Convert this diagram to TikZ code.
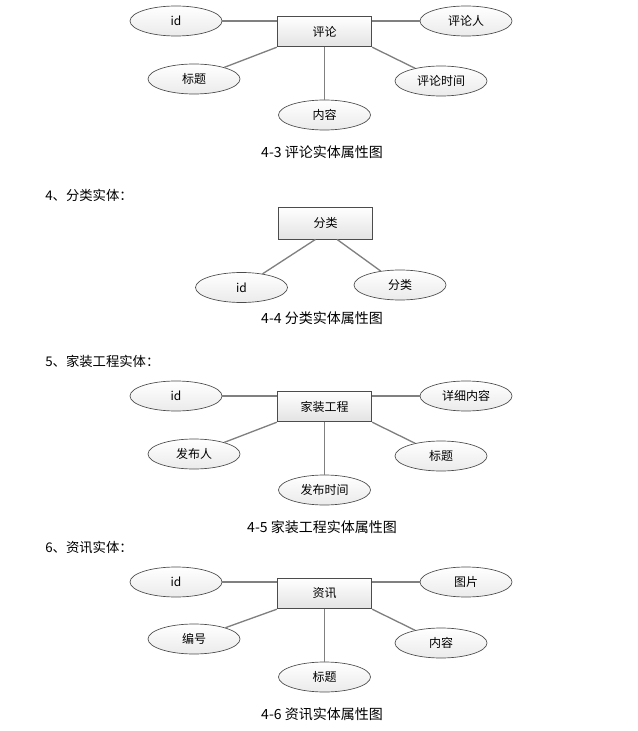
\documentclass[tikz,border=0pt]{standalone}
\usepackage{fontspec}
\newfontfamily\cjk{Noto Sans CJK SC}
\usetikzlibrary{shapes.geometric,positioning,calc}
\begin{document}
\begin{tikzpicture}[
    x=0.75pt, y=-0.75pt,
    font=\cjk\fontsize{9}{11}\selectfont,
    ent/.style={draw=black!70, line width=0.6pt, top color=white, bottom color=gray!22, minimum width=71pt, minimum height=23pt, inner sep=0pt},
    attr/.style={ellipse, draw=black!70, line width=0.5pt, top color=white, bottom color=gray!16, minimum width=69pt, minimum height=22.5pt, inner sep=0pt},
    link/.style={draw=gray, line width=1pt},
    figcap/.style={font=\cjk\fontsize{10.5}{12}\selectfont},
    headtxt/.style={anchor=west, inner sep=0pt, font=\cjk\fontsize{10}{12}\selectfont}
]
\useasboundingbox (0,0) rectangle (638,731);

% 4-3
\node[ent] (r1) at (324.5,31.5) {评论};
\node[attr] (i1) at (176,21) {id};
\node[attr] (p1) at (466,21) {评论人};
\node[attr] (t1) at (194,79) {标题};
\node[attr] (s1) at (441,81) {评论时间};
\node[attr] (c1) at (324.5,115) {内容};
\node[figcap] (cap1) at (322,152) {4-3 评论实体属性图};

\draw[link] (i1.east) -- (i1.east -| r1.west);
\draw[link] (p1.west) -- (p1.west -| r1.east);
\draw[link] (r1.south west) -- (t1);
\draw[link] (r1.south east) -- (s1);
\draw[link] (r1.south) -- (c1.north);

% 4-4
\node[headtxt] (h4) at (45,195) {4、分类实体：};
\node[ent, minimum height=24pt] (r2) at (325.5,223) {分类};
\node[attr] (i2) at (241.5,287.5) {id};
\node[attr] (k2) at (400,285) {分类};
\node[figcap] (cap2) at (322,318) {4-4 分类实体属性图};

\draw[link] ($(r2.south)+(-10,0)$) -- (i2);
\draw[link] ($(r2.south)+(11.5,0)$) -- (k2);

% 4-5
\node[headtxt] (h5) at (45,361) {5、家装工程实体：};
\node[ent] (r3) at (324.5,406.5) {家装工程};
\node[attr] (i3) at (176,396) {id};
\node[attr] (d3) at (466,396) {详细内容};
\node[attr] (u3) at (194,454) {发布人};
\node[attr] (t3) at (441,456) {标题};
\node[attr] (s3) at (324.5,490) {发布时间};
\node[figcap] (cap3) at (322,527) {4-5 家装工程实体属性图};

\draw[link] (i3.east) -- (i3.east -| r3.west);
\draw[link] (d3.west) -- (d3.west -| r3.east);
\draw[link] (r3.south west) -- (u3);
\draw[link] (r3.south east) -- (t3);
\draw[link] (r3.south) -- (s3.north);

% 4-6
\node[headtxt] (h6) at (45,547) {6、资讯实体：};
\node[ent] (r4) at (324.5,593.5) {资讯};
\node[attr] (i4) at (176,582) {id};
\node[attr] (g4) at (466,582) {图片};
\node[attr] (n4) at (194,639) {编号};
\node[attr] (c4) at (441,643) {内容};
\node[attr] (t4) at (324.5,677) {标题};
\node[figcap] (cap4) at (322,714) {4-6 资讯实体属性图};

\draw[link] (i4.east) -- (i4.east -| r4.west);
\draw[link] (g4.west) -- (g4.west -| r4.east);
\draw[link] (r4.south west) -- (n4);
\draw[link] (r4.south east) -- (c4);
\draw[link] (r4.south) -- (t4.north);
\end{tikzpicture}
\end{document}
